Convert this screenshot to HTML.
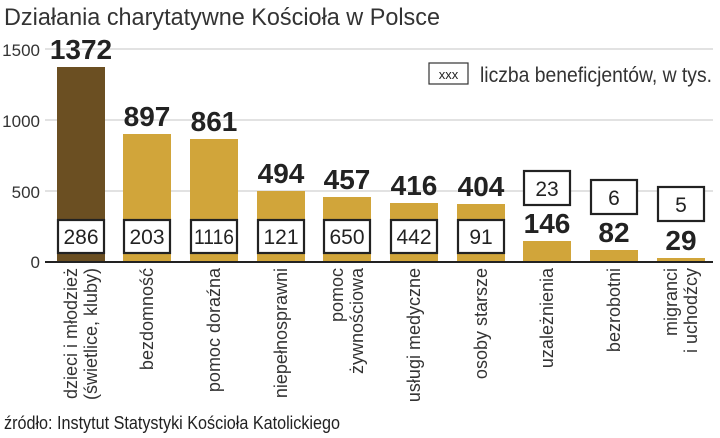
<!DOCTYPE html>
<html><head><meta charset="utf-8"><style>
html,body{margin:0;padding:0;background:#fff;}
svg{display:block;}
text{font-family:"Liberation Sans Narrow","Liberation Sans",sans-serif;}
</style></head><body>
<svg width="720" height="438" viewBox="0 0 720 438" xmlns="http://www.w3.org/2000/svg">
<text x="4" y="25" font-size="24" fill="#333" textLength="436" lengthAdjust="spacingAndGlyphs">Działania charytatywne Kościoła w Polsce</text>
<g stroke="#d8d8d8" stroke-width="1.5">
<line x1="45" y1="49" x2="713" y2="49"/>
<line x1="45" y1="120" x2="713" y2="120"/>
<line x1="45" y1="191" x2="713" y2="191"/>
</g>
<g font-size="17" fill="#333" text-anchor="end">
<text x="40" y="56">1500</text>
<text x="40" y="127">1000</text>
<text x="40" y="198">500</text>
<text x="40" y="268">0</text>
</g>
<rect x="429" y="63" width="39" height="21" fill="#fff" stroke="#333" stroke-width="1.2"/>
<text x="448.5" y="79" font-size="13" text-anchor="middle" fill="#222">xxx</text>
<text x="480" y="82" font-size="21" fill="#333" textLength="232" lengthAdjust="spacingAndGlyphs">liczba beneficjentów, w tys.</text>
<rect x="57" y="67" width="48" height="195" fill="#6b4f22"/>
<rect x="123" y="134" width="48" height="128" fill="#d1a53a"/>
<rect x="190" y="139" width="48" height="123" fill="#d1a53a"/>
<rect x="257" y="191" width="48" height="71" fill="#d1a53a"/>
<rect x="323" y="197" width="48" height="65" fill="#d1a53a"/>
<rect x="390" y="203" width="48" height="59" fill="#d1a53a"/>
<rect x="457" y="204" width="48" height="58" fill="#d1a53a"/>
<rect x="523" y="241" width="48" height="21" fill="#d1a53a"/>
<rect x="590" y="250" width="48" height="12" fill="#d1a53a"/>
<rect x="657" y="258" width="48" height="4" fill="#d1a53a"/>
<line x1="45" y1="262" x2="713" y2="262" stroke="#222" stroke-width="2"/>
<g font-size="28" font-weight="bold" fill="#222" text-anchor="middle">
<text x="81" y="59">1372</text>
<text x="147" y="126">897</text>
<text x="214" y="131">861</text>
<text x="281" y="183">494</text>
<text x="347" y="189">457</text>
<text x="414" y="195">416</text>
<text x="481" y="196">404</text>
<text x="547" y="233">146</text>
<text x="614" y="242">82</text>
<text x="681" y="250">29</text>
</g>
<g fill="#fff" stroke="#222" stroke-width="2.2">
<rect x="58" y="220" width="46" height="33"/>
<rect x="124" y="220" width="46" height="33"/>
<rect x="191" y="220" width="46" height="33"/>
<rect x="258" y="220" width="46" height="33"/>
<rect x="324" y="220" width="46" height="33"/>
<rect x="391" y="220" width="46" height="33"/>
<rect x="458" y="220" width="46" height="33"/>
<rect x="524" y="171" width="46" height="34"/>
<rect x="591" y="180" width="46" height="34"/>
<rect x="658" y="187" width="46" height="34"/>
</g>
<g font-size="21" fill="#222" text-anchor="middle">
<text x="81" y="244">286</text>
<text x="147" y="244">203</text>
<text x="214" y="244" textLength="40" lengthAdjust="spacingAndGlyphs">1116</text>
<text x="281" y="244">121</text>
<text x="347" y="244">650</text>
<text x="414" y="244">442</text>
<text x="481" y="244">91</text>
<text x="547" y="196">23</text>
<text x="614" y="205">6</text>
<text x="681" y="212">5</text>
</g>
<g font-size="18" fill="#333" text-anchor="end">
<text transform="translate(77,268) rotate(-90)">dzieci i młodzież</text>
<text transform="translate(97,268) rotate(-90)">(świetlice, kluby)</text>
<text transform="translate(153,268) rotate(-90)">bezdomność</text>
<text transform="translate(220,268) rotate(-90)">pomoc doraźna</text>
<text transform="translate(287,268) rotate(-90)">niepełnosprawni</text>
<text transform="translate(343,268) rotate(-90)">pomoc</text>
<text transform="translate(363,268) rotate(-90)">żywnościowa</text>
<text transform="translate(420,268) rotate(-90)">usługi medyczne</text>
<text transform="translate(487,268) rotate(-90)">osoby starsze</text>
<text transform="translate(553,268) rotate(-90)">uzależnienia</text>
<text transform="translate(620,268) rotate(-90)">bezrobotni</text>
<text transform="translate(677,268) rotate(-90)">migranci</text>
<text transform="translate(697,268) rotate(-90)">i uchodźcy</text>
</g>
<text x="4" y="429" font-size="18" fill="#222" textLength="336" lengthAdjust="spacingAndGlyphs">źródło: Instytut Statystyki Kościoła Katolickiego</text>
</svg>
</body></html>
